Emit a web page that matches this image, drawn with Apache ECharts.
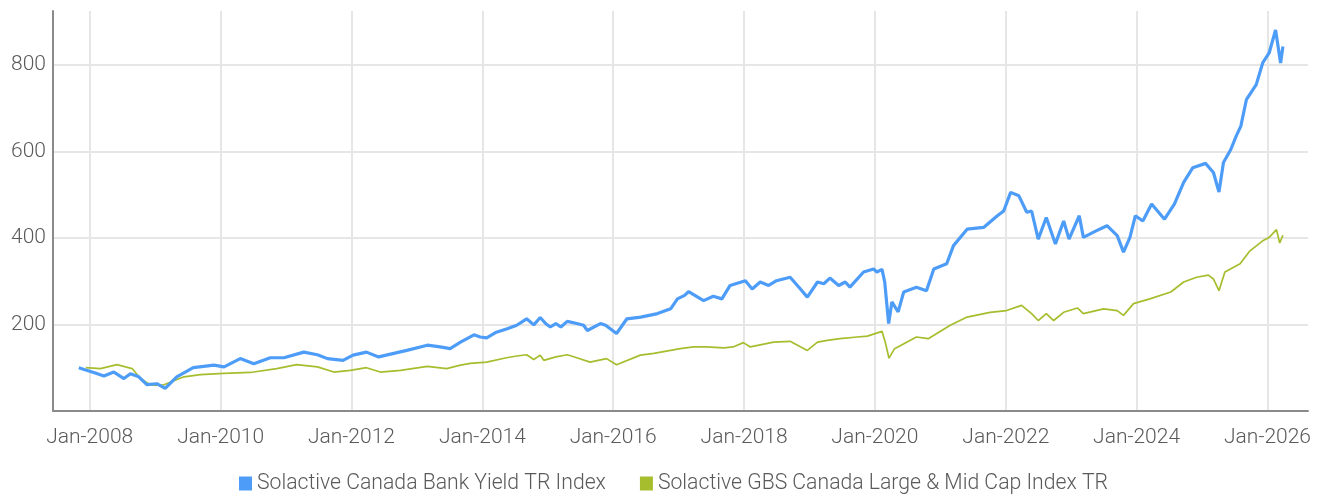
<!DOCTYPE html>
<html>
<head>
<meta charset="utf-8">
<script src="https://cdn.jsdelivr.net/npm/echarts@6/dist/echarts.min.js"></script>
<style>
html,body{margin:0;padding:0;background:#fff;}
#chart{width:1321px;height:495px;}
</style>
</head>
<body>
<div id="chart"></div>
<script>
const seriesNames = ['Solactive Canada Bank Yield TR Index', 'Solactive GBS Canada Large & Mid Cap Index TR'];

const bankDates = ['2007-11-01','2007-12-01','2008-01-01','2008-02-01','2008-03-20','2008-05-15','2008-07-10','2008-08-15','2008-10-01','2008-11-15','2009-01-10','2009-02-25','2009-05-01','2009-08-01','2009-11-25','2010-01-20','2010-04-20','2010-07-05','2010-10-05','2010-12-20','2011-04-10','2011-06-25','2011-08-20','2011-11-15','2012-01-10','2012-03-25','2012-06-01','2012-11-05','2013-02-28','2013-05-10','2013-07-05','2013-09-01','2013-11-15','2013-12-20','2014-01-25','2014-03-20','2014-05-20','2014-07-12','2014-09-05','2014-10-15','2014-11-20','2014-12-20','2015-01-15','2015-02-15','2015-03-15','2015-04-20','2015-06-12','2015-07-20','2015-08-10','2015-10-22','2015-11-20','2016-01-20','2016-03-18','2016-06-03','2016-09-05','2016-11-17','2016-12-25','2017-02-03','2017-02-25','2017-05-20','2017-07-13','2017-08-30','2017-10-15','2018-01-08','2018-02-15','2018-04-01','2018-05-18','2018-07-01','2018-09-15','2018-11-03','2018-12-20','2019-02-15','2019-03-22','2019-04-25','2019-06-13','2019-07-20','2019-08-15','2019-10-30','2019-12-25','2020-01-12','2020-02-10','2020-02-25','2020-03-18','2020-04-05','2020-05-10','2020-06-10','2020-08-20','2020-10-15','2020-11-25','2021-02-05','2021-03-15','2021-05-30','2021-08-30','2021-11-15','2021-12-20','2022-01-28','2022-03-15','2022-04-28','2022-05-25','2022-07-01','2022-08-15','2022-10-05','2022-11-20','2022-12-20','2023-02-15','2023-03-10','2023-05-20','2023-07-20','2023-09-15','2023-10-20','2023-11-25','2023-12-25','2024-02-05','2024-03-25','2024-06-05','2024-07-30','2024-09-20','2024-11-10','2025-01-20','2025-03-05','2025-04-05','2025-04-30','2025-06-10','2025-07-10','2025-08-05','2025-09-05','2025-10-30','2025-12-05','2026-01-10','2026-02-15','2026-03-15','2026-03-28'];
const bankValues = [100,96,92,88,81,90,75,86,79,61,63,52,79,100,106,102,121,109,123,123,136,130,121,117,129,136,125,140,152,148,144,159,176,171,169,182,190,198,213,199,216,202,194,202,194,207,202,198,186,202,198,179,213,217,225,236,259,267,276,255,265,259,290,301,282,298,290,301,309,286,263,298,294,307,290,298,286,321,328,321,327,298,202,252,229,275,286,278,328,340,382,420,424,451,462,505,497,459,462,397,447,386,439,397,451,401,416,428,405,367,401,451,439,478,443,478,528,562,572,551,506,574,604,635,658,719,754,804,827,880,804,842];

const gbsDates = ['2007-12-10','2008-03-01','2008-06-01','2008-08-25','2008-10-10','2008-12-05','2009-02-15','2009-06-10','2009-09-10','2010-01-20','2010-06-15','2010-11-10','2011-03-01','2011-06-25','2011-09-25','2011-12-25','2012-03-25','2012-06-10','2012-10-01','2013-02-28','2013-06-15','2013-09-01','2013-10-25','2014-01-25','2014-05-15','2014-07-12','2014-09-05','2014-10-15','2014-11-20','2014-12-10','2015-02-15','2015-04-20','2015-06-12','2015-08-25','2015-11-25','2016-01-20','2016-06-01','2016-08-15','2017-01-10','2017-03-25','2017-06-05','2017-09-10','2017-11-01','2017-12-28','2018-02-05','2018-06-15','2018-09-15','2018-12-20','2019-02-15','2019-04-10','2019-06-20','2019-09-25','2019-11-20','2020-02-10','2020-02-28','2020-03-20','2020-04-20','2020-08-20','2020-10-25','2021-02-25','2021-05-30','2021-10-05','2022-01-05','2022-03-30','2022-05-25','2022-07-01','2022-08-15','2022-09-25','2022-11-20','2023-02-05','2023-03-10','2023-07-01','2023-09-15','2023-10-20','2023-12-15','2024-03-15','2024-07-10','2024-09-20','2024-12-01','2025-02-05','2025-03-05','2025-04-05','2025-05-08','2025-08-01','2025-09-25','2025-12-05','2026-01-10','2026-02-20','2026-03-10','2026-03-28'];
const gbsValues = [100,98,107,98,75,60,60,79,84,87,89,98,107,102,90,94,100,90,94,103,98,106,110,113,123,127,130,119,129,117,125,130,123,113,121,107,129,133,144,148,148,146,148,158,148,159,161,140,159,163,167,171,173,184,159,122,144,171,167,198,217,228,232,244,225,209,225,209,228,238,225,236,232,221,248,259,275,298,309,314,305,278,321,340,370,393,401,419,388,406];

const xTickYears = [2008,2010,2012,2014,2016,2018,2020,2022,2024,2026];
const yTickValues = [200,400,600,800];

const ts = s => Date.parse(s + 'T00:00:00Z');
const xTicks = xTickYears.map(y => Date.UTC(y, 0, 1));
const font = 'Roboto';
const textColor = '#5a5a5a';

const chart = echarts.init(document.getElementById('chart'), null, {renderer: 'canvas'});
chart.setOption({
  animation: false,
  backgroundColor: '#ffffff',
  grid: {left: 53, right: 13, top: 11, bottom: 84, containLabel: false},
  legend: {
    data: seriesNames,
    left: 234,
    top: 468,
    icon: 'rect',
    itemWidth: 13,
    itemHeight: 14,
    itemGap: 34,
    textStyle: {fontFamily: font, fontWeight: 300, fontSize: 21.2, color: textColor}
  },
  xAxis: {
    type: 'value',
    min: ts('2007-06-10'),
    max: ts('2026-08-15'),
    axisLine: {show: true, lineStyle: {color: '#8a8a8a', width: 2}},
    axisTick: {show: false, customValues: xTicks},
    axisLabel: {
      customValues: xTicks,
      formatter: v => 'Jan-' + new Date(v).getUTCFullYear(),
      fontFamily: font, fontWeight: 300, fontSize: 21, color: textColor, margin: 16
    },
    splitLine: {show: true, lineStyle: {color: '#e6e6e6', width: 2}}
  },
  yAxis: {
    type: 'value',
    min: 0,
    max: 924,
    axisLine: {show: true, lineStyle: {color: '#8a8a8a', width: 2}},
    axisTick: {show: false, customValues: yTickValues},
    axisLabel: {
      customValues: yTickValues,
      fontFamily: font, fontWeight: 300, fontSize: 21, color: textColor, margin: 7
    },
    splitLine: {show: true, lineStyle: {color: '#e6e6e6', width: 2}}
  },
  series: [
    {
      name: seriesNames[1],
      type: 'line',
      z: 2,
      data: gbsDates.map((d, i) => [ts(d), gbsValues[i]]),
      showSymbol: false,
      symbol: 'none',
      lineStyle: {color: '#a6be2e', width: 1.7},
      itemStyle: {color: '#a6be2e'}
    },
    {
      name: seriesNames[0],
      type: 'line',
      z: 3,
      data: bankDates.map((d, i) => [ts(d), bankValues[i]]),
      showSymbol: false,
      symbol: 'none',
      lineStyle: {color: '#4d9cf8', width: 3.2},
      itemStyle: {color: '#4d9cf8'}
    }
  ]
});
</script>
</body>
</html>
